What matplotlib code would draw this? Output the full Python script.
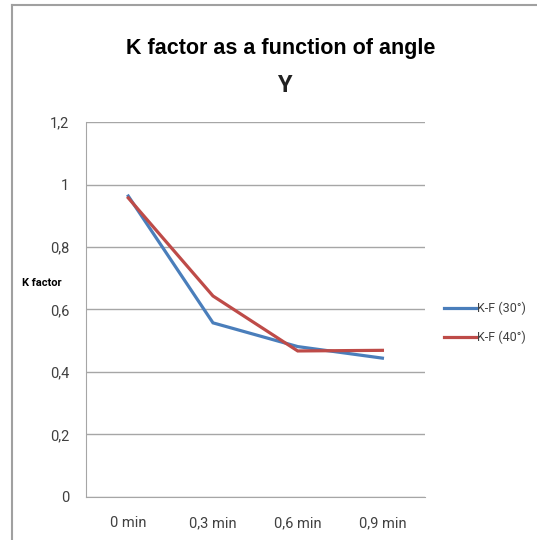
import matplotlib
matplotlib.use("Agg")
import matplotlib.pyplot as plt
from matplotlib.lines import Line2D

# data
categories = ["0 min", "0,3 min", "0,6 min", "0,9 min"]
kf_30 = [0.963, 0.557, 0.481, 0.444]
kf_40 = [0.957, 0.643, 0.467, 0.469]
yticks = [0, 0.2, 0.4, 0.6, 0.8, 1.0, 1.2]
ytick_labels = ["0", "0,2", "0,4", "0,6", "0,8", "1", "1,2"]

narrow = "Roboto"

fig = plt.figure(figsize=(5.37, 5.40), dpi=100)
ax = fig.add_axes([0.160, 0.080, 0.631, 0.694])

x = list(range(len(categories)))
ax.plot(x, kf_30, color="#4a7ebb", lw=2.3, label="K-F (30°)", solid_joinstyle="miter")
ax.plot(x, kf_40, color="#be4b48", lw=2.3, label="K-F (40°)", solid_joinstyle="miter")

ax.set_xlim(-0.5, 3.5)
ax.set_ylim(0, 1.2)
ax.set_yticks(yticks)
ax.set_yticklabels(ytick_labels)
ax.set_xticks(x)
ax.set_xticklabels(categories)
ax.grid(axis="y", color="#a6a6a6", lw=1)
ax.set_axisbelow(True)
for s in ["top", "right"]:
    ax.spines[s].set_visible(False)
for s in ["left", "bottom"]:
    ax.spines[s].set_color("#a6a6a6")
ax.tick_params(length=0, labelsize=10.5, colors="#404040")
ax.tick_params(axis="x", pad=14)
ax.tick_params(axis="y", pad=12)
for lab in ax.get_xticklabels() + ax.get_yticklabels():
    lab.set_family(narrow)

fig.text(0.523, 0.910, "K factor as a function of angle", ha="center", va="center",
         fontsize=15.5, fontweight="bold", family="Liberation Sans")
fig.text(0.530, 0.842, "Y", ha="center", va="center", fontsize=17,
         fontweight="bold", family=narrow, color="#222222")
fig.text(0.041, 0.476, "K factor", ha="left", va="center", fontsize=8,
         fontweight="bold", family=narrow)

ax.legend(loc="center left", bbox_to_anchor=(1.025, 0.463), frameon=False,
          handlelength=2.5, handletextpad=0.12, labelspacing=1.25,
          prop={"family": narrow, "size": 9})
for t in ax.get_legend().get_texts():
    t.set_color("#404040")

# outer chart border (left and top only visible)
fig.add_artist(Line2D([0.023, 0.023], [0, 0.991], color="#a0a0a0", lw=1.5,
                      transform=fig.transFigure))
fig.add_artist(Line2D([0.023, 1], [0.991, 0.991], color="#a0a0a0", lw=1.5,
                      transform=fig.transFigure))

plt.savefig("out.png", dpi=100)
